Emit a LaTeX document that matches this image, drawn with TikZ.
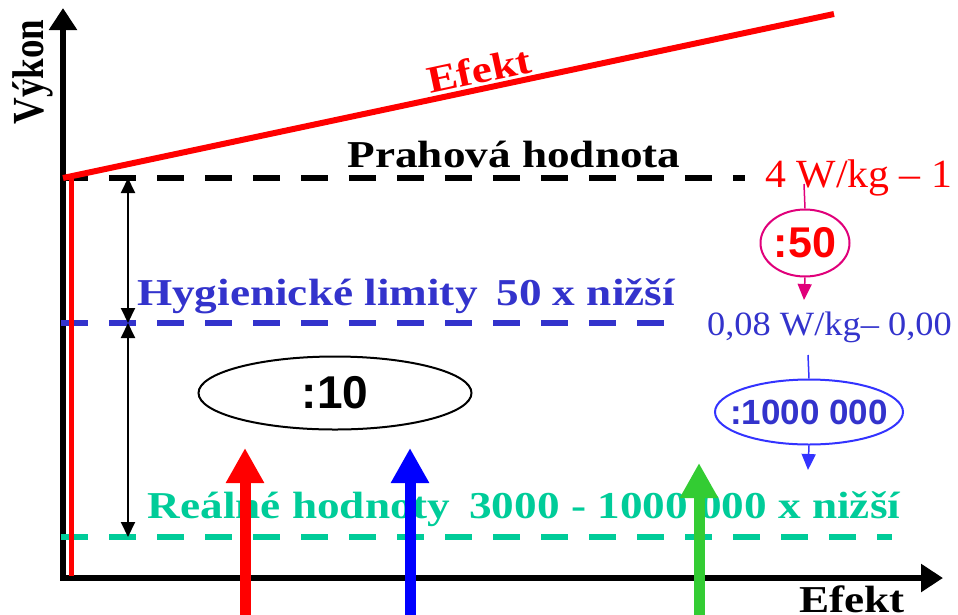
\documentclass[tikz,border=0pt]{standalone}
\usepackage{fontspec}
\setmainfont{Liberation Serif}
\newfontfamily\sansf{Liberation Sans}
\usetikzlibrary{arrows.meta,shapes.geometric}
\definecolor{hblue}{HTML}{3333CC}
\definecolor{rgreen}{HTML}{00CC99}
\definecolor{agreen}{HTML}{33CC33}
\definecolor{magc}{HTML}{E0007A}
\definecolor{eblue}{HTML}{3333FF}
\newcommand{\fsz}[1]{\fontsize{#1}{#1}\selectfont}
\newcommand{\wide}[1]{\scalebox{1.19}[1]{#1}}
\begin{document}
\begin{tikzpicture}[x=1pt,y=-1pt,
  axis/.style={line width=5.5pt,-{Triangle[length=22pt,width=27pt]}},
  dashline/.style={line width=5.5pt,dash pattern=on 27pt off 21pt},
  bigarrow/.style={line width=11pt,-{Triangle[length=35pt,width=36pt]}},
  dimarrow/.style={line width=2pt,{Triangle[length=15pt,width=14pt]}-{Triangle[length=15pt,width=14pt]}},
  thinline/.style={line width=1.5pt},
  smallarrow/.style={line width=1.5pt,-{Triangle[length=16pt,width=14pt]}},
  lab/.style={inner sep=0pt,anchor=base,font=\bfseries\fsz{38}},
  ell/.style={ellipse,draw,line width=2pt,inner sep=0pt},
]
\useasboundingbox (0,0) rectangle (958,614);
% axes
\coordinate (o) at (63,578);
\coordinate (ytop) at (63,8);
\coordinate (xend) at (943,578);
\draw[axis] (o) -- (ytop);
\draw[axis] ([xshift=-3pt]o) -- (xend);
% dashed levels
\draw[dashline,black] (61,178) coordinate (b0) -- (745,178) coordinate (b1);
\draw[dashline,hblue] (61,323) coordinate (h0) -- (672,323) coordinate (h1);
\draw[dashline,rgreen] (61,537) coordinate (g0) -- (892,537) coordinate (g1);
% red effect lines
\coordinate (rs) at (63,178);
\coordinate (re) at (834,14);
\draw[red,line width=6pt] (rs) -- (re);
\draw[red,line width=5pt] (71,178) coordinate (rv0) -- (71,576) coordinate (rv1);
% dimension arrows
\coordinate (d0) at (128,178);
\coordinate (d1) at (128,323);
\coordinate (d2) at (128,537);
\draw[dimarrow] (d0) -- (d1);
\draw[dimarrow] (d1) -- (d2);
% labels
\node[lab,red,rotate=12] (efekt1) at (482,83) {\wide{Efekt}};
\node[lab] (prah) at (514,167) {\wide{Prahová hodnota}};
\node[lab,hblue] (hyg) at (406,305) {\wide{Hygienické limity\, 50 x nižší}};
\node[lab,rgreen] (real) at (524,518) {\wide{Reálné hodnoty\, 3000 - 1000 000 x nižší}};
\node[lab] (efekt2) at (852,612) {\wide{Efekt}};
\node[lab,rotate=90,font=\bfseries\fsz{37}] (vykon) at (43,72) {\scalebox{1}[1.2]{Výkon}};
% :10 ellipse
\node[ell,minimum width=273pt,minimum height=73pt] (e1) at (335,393) {};
\node[inner sep=0pt,font=\sansf\bfseries\fsz{46}] (t1) at (e1.center) {:10};
% right column
\node[anchor=base west,inner sep=0pt,red,font=\fsz{40}] (r4) at (765,187) {\scalebox{1.045}[1]{4 W/kg – 1}};
\node[ell,draw=magc,minimum width=89pt,minimum height=67pt] (e2) at (805,243) {};
\node[inner sep=0pt,red,font=\sansf\bfseries\fsz{43}] (t2) at (e2.center) {:50};
\node[anchor=base west,inner sep=0pt,hblue,font=\fsz{34}] (b08) at (707,335) {\scalebox{1.07}[1]{0,08 W/kg– 0,00}};
\node[ell,draw=eblue,minimum width=188pt,minimum height=65pt] (e3) at (809,412) {};
\node[inner sep=0pt,hblue,font=\sansf\bfseries\fsz{35}] (t3) at (e3.center) {:1000 000};
\coordinate (m0) at (804,184);
\coordinate (m1) at (804,300);
\draw[magc,thinline] (m0) -- (e2.north);
\draw[magc,smallarrow] (e2.south) -- (m1);
\coordinate (n0) at (808,355);
\coordinate (n1) at (808,470);
\draw[eblue,thinline] (n0) -- (e3.north);
\draw[eblue,smallarrow] (e3.south) -- (n1);
% big coloured arrows
\coordinate (ra0) at (245,620);
\coordinate (ra1) at (245,448);
\coordinate (ba0) at (410,620);
\coordinate (ba1) at (410,448);
\coordinate (ga0) at (699,620);
\coordinate (ga1) at (699,463);
\draw[bigarrow,red] (ra0) -- (ra1);
\draw[bigarrow,blue] (ba0) -- (ba1);
\draw[bigarrow,agreen] (ga0) -- (ga1);
\end{tikzpicture}
\end{document}
